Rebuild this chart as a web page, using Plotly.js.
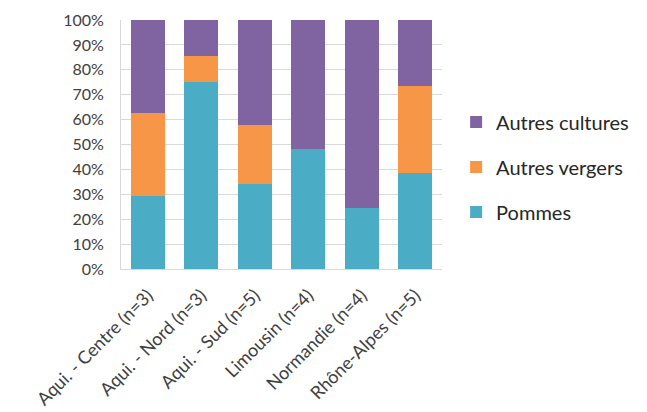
<!DOCTYPE html>
<html>
<head>
<meta charset="utf-8">
<script src="https://cdn.plot.ly/plotly-3.0.1.min.js"></script>
<style>html,body{margin:0;padding:0;background:#fff;}#chart{width:647px;height:412px;}</style>
</head>
<body>
<div id="chart"></div>
<script>
const categories = ["Aqui. - Centre (n=3)", "Aqui. - Nord (n=3)", "Aqui. - Sud (n=5)", "Limousin (n=4)", "Normandie (n=4)", "Rhône-Alpes (n=5)"];
const pommes = [29.5, 75, 34, 48, 24.5, 38.5];
const autresVergers = [33, 10.7, 24, 0, 0, 35];
const autresCultures = [37.5, 14.3, 42, 52, 75.5, 26.5];
const tickVals = [0, 10, 20, 30, 40, 50, 60, 70, 80, 90, 100];
const tickText = ["0%", "10%", "20%", "30%", "40%", "50%", "60%", "70%", "80%", "90%", "100%"];

const traces = [
  {type: "bar", name: "Pommes", x: categories, y: pommes, marker: {color: "#4BACC6"}, legendgroup: "a", legendrank: 3},
  {type: "bar", name: "Autres vergers", x: categories, y: autresVergers, marker: {color: "#F79646"}, legendgroup: "b", legendrank: 2},
  {type: "bar", name: "Autres cultures", x: categories, y: autresCultures, marker: {color: "#8064A2"}, legendgroup: "c", legendrank: 1}
];

const layout = {
  width: 647, height: 412,
  margin: {l: 121, r: 205, t: 20, b: 143},
  barmode: "stack",
  bargap: 0.36,
  paper_bgcolor: "#fff", plot_bgcolor: "#fff",
  font: {family: "Lato, 'Open Sans', sans-serif", size: 17, color: "#404040"},
  showlegend: true,
  legend: {x: 1.044, xanchor: "left", y: 0.41, yanchor: "middle", traceorder: "grouped", tracegroupgap: 16, font: {size: 20, color: "#262626"}, itemwidth: 30},
  xaxis: {tickangle: -45, showgrid: false, showline: true, linecolor: "#d9d9d9", ticks: "", automargin: false, ticklabelstandoff: 8, tickfont: {size: 18, color: "#404040"}},
  yaxis: {range: [0, 100], tickvals: tickVals, ticktext: tickText, showgrid: true, gridcolor: "#d9d9d9", gridwidth: 1, showline: true, linecolor: "#d9d9d9", zeroline: false, ticks: "", automargin: false, ticklabelstandoff: 13, tickfont: {size: 16, color: "#404040"}}
};

Plotly.newPlot("chart", traces, layout, {displayModeBar: false, staticPlot: true});
</script>
</body>
</html>
